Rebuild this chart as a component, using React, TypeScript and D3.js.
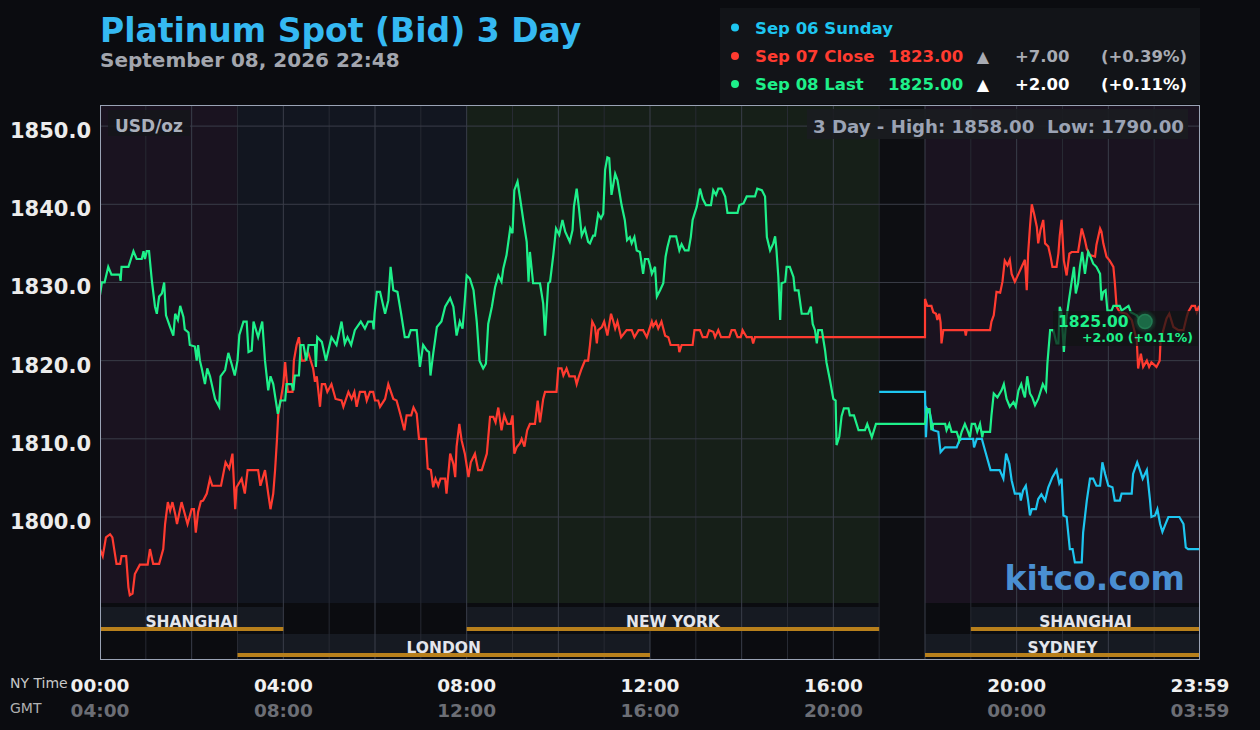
import React from 'react';
import * as d3 from 'd3';

type Pt = [number, number];

// [NY hour, price]
const sep06Sunday: Pt[] = [[17.0,1816],[18.0,1816],[18.02,1810.2],[18.05,1813.8],[18.11,1813.2],[18.18,1811.1],[18.29,1810.9],[18.34,1808.3],[18.4,1808.7],[18.44,1808.9],[18.69,1808.9],[18.75,1809.8],[18.8,1810],[19.05,1810],[19.07,1808.9],[19.13,1810],[19.24,1810],[19.31,1808.5],[19.43,1806],[19.63,1806],[19.71,1804.9],[19.77,1808.1],[19.84,1806.8],[19.89,1804.7],[19.96,1803],[20.07,1803],[20.09,1802.1],[20.14,1803.4],[20.2,1804],[20.25,1802.1],[20.29,1800.2],[20.33,1801],[20.42,1801],[20.47,1802.3],[20.54,1802.9],[20.62,1802.1],[20.69,1803.8],[20.78,1805.1],[20.87,1806],[20.93,1804.3],[20.98,1804.9],[21.02,1800.2],[21.09,1800],[21.16,1795.9],[21.22,1795.9],[21.27,1794.2],[21.42,1794.2],[21.45,1798],[21.53,1802.1],[21.6,1804.9],[21.67,1804.9],[21.74,1804],[21.82,1804],[21.87,1807],[21.93,1805.5],[22.0,1804],[22.09,1803.8],[22.14,1802.1],[22.25,1802.1],[22.29,1803],[22.51,1803],[22.54,1805.5],[22.63,1807],[22.69,1806],[22.75,1804.9],[22.84,1806],[22.91,1802.1],[22.94,1800],[23.02,1800.2],[23.07,1801],[23.13,1799.1],[23.18,1798.1],[23.24,1799],[23.31,1800],[23.55,1800],[23.64,1799.1],[23.69,1796.1],[23.74,1795.9],[24,1795.9]];

const sep07Close: Pt[] = [[0,1795.9],[0.06,1795],[0.13,1797.4],[0.22,1797.8],[0.27,1797.4],[0.36,1794],[0.44,1794],[0.47,1795],[0.57,1795],[0.62,1791],[0.65,1790],[0.71,1790.2],[0.76,1792.7],[0.87,1793.9],[1.04,1793.9],[1.09,1795.9],[1.16,1794],[1.29,1794],[1.38,1795.9],[1.42,1799.1],[1.48,1801.9],[1.53,1800.8],[1.58,1801.9],[1.64,1800.4],[1.68,1799.1],[1.78,1801.9],[1.85,1800.4],[1.91,1799.1],[2.0,1801],[2.05,1801],[2.09,1798],[2.14,1800.6],[2.2,1802],[2.25,1802.1],[2.33,1803],[2.4,1804.9],[2.45,1804],[2.64,1804],[2.74,1807],[2.82,1806.2],[2.89,1808.1],[2.95,1801],[2.98,1803.8],[3.09,1804.9],[3.16,1803],[3.22,1806],[3.45,1806],[3.5,1804],[3.6,1806],[3.67,1803],[3.72,1801],[3.78,1803],[3.82,1806],[3.86,1809.8],[3.89,1813.2],[3.94,1814.9],[4.0,1817],[4.04,1819.8],[4.08,1817],[4.1,1816],[4.2,1816],[4.23,1820],[4.29,1822],[4.34,1823],[4.4,1820],[4.47,1820],[4.54,1821.1],[4.65,1819],[4.69,1817.3],[4.73,1818],[4.8,1814.1],[4.84,1817],[4.91,1817],[4.96,1816],[5.05,1817],[5.14,1815.1],[5.27,1814.9],[5.31,1814.1],[5.42,1816],[5.49,1815.1],[5.55,1816],[5.6,1814.1],[5.67,1816],[5.78,1816],[5.82,1814.9],[5.89,1816],[5.96,1816],[6.0,1814.9],[6.07,1814.9],[6.11,1814.1],[6.22,1815.1],[6.29,1817],[6.4,1815.1],[6.47,1814.9],[6.55,1813.2],[6.64,1811.1],[6.69,1813],[6.79,1813],[6.84,1814],[6.91,1813.2],[6.96,1810],[7.11,1810],[7.15,1806.2],[7.22,1806],[7.27,1803.8],[7.32,1804.9],[7.38,1804],[7.43,1804.9],[7.53,1804.9],[7.56,1803],[7.64,1808.1],[7.71,1806.8],[7.75,1805.1],[7.78,1809],[7.84,1811.9],[7.89,1809.8],[7.96,1808.1],[8.04,1805.1],[8.09,1807],[8.18,1808.1],[8.25,1806],[8.33,1806],[8.44,1808.1],[8.51,1812.8],[8.58,1812.8],[8.63,1812.1],[8.69,1814],[8.76,1811.1],[8.82,1813],[8.89,1811.9],[8.96,1811.9],[9.0,1813],[9.04,1808.1],[9.09,1808.9],[9.16,1809.4],[9.2,1810],[9.26,1809],[9.32,1811.1],[9.38,1811.9],[9.49,1811.9],[9.55,1814.9],[9.6,1812.1],[9.67,1815.1],[9.71,1816],[9.96,1816],[10.0,1819],[10.07,1819],[10.11,1818.1],[10.18,1819],[10.24,1818],[10.36,1818],[10.4,1817],[10.45,1818],[10.51,1819],[10.58,1820],[10.65,1820],[10.69,1822],[10.74,1825],[10.8,1824.3],[10.84,1822.2],[10.87,1823.9],[10.95,1824.3],[11.0,1825],[11.07,1823.2],[11.15,1826],[11.2,1825],[11.24,1824.1],[11.29,1825],[11.37,1823],[11.49,1823.9],[11.6,1823.9],[11.66,1823],[11.75,1823.9],[11.85,1823.9],[11.93,1823],[12.04,1825],[12.07,1824.4],[12.13,1825],[12.18,1824.1],[12.25,1825],[12.33,1823.2],[12.4,1823],[12.45,1822],[12.62,1822],[12.64,1821.1],[12.69,1822],[12.93,1822],[12.97,1823.9],[13.09,1823.9],[13.15,1823],[13.24,1823],[13.29,1823.9],[13.38,1823.7],[13.42,1823],[13.49,1823.9],[13.55,1823],[13.73,1823],[13.78,1823.9],[13.85,1823.9],[13.91,1823],[13.98,1823],[14.02,1823.9],[14.11,1823],[14.22,1823],[14.25,1822.2],[14.29,1823],[18.0,1823],[18.0,1827.9],[18.05,1827],[18.14,1827],[18.18,1826.2],[18.24,1826],[18.27,1825.2],[18.31,1826],[18.34,1824.9],[18.36,1822.2],[18.4,1823.9],[18.87,1823.9],[18.89,1823.2],[18.91,1823.9],[19.42,1823.9],[19.45,1825],[19.5,1825.8],[19.56,1828.8],[19.64,1828.7],[19.69,1830.1],[19.74,1832.8],[19.8,1832.2],[19.85,1832.9],[19.89,1831.1],[19.96,1830.1],[20.04,1831.1],[20.11,1832],[20.18,1832.9],[20.22,1829],[20.25,1833.7],[20.29,1837.1],[20.33,1840],[20.38,1838.8],[20.44,1837.1],[20.47,1835],[20.52,1836.7],[20.58,1838],[20.62,1835],[20.69,1834.6],[20.74,1833.3],[20.78,1832],[20.87,1832],[20.91,1833.7],[20.94,1836],[20.98,1838],[21.03,1832.8],[21.09,1830.9],[21.15,1833.7],[21.2,1833.9],[21.34,1833.9],[21.42,1836.9],[21.49,1835.4],[21.53,1834.3],[21.6,1833.5],[21.71,1833.3],[21.74,1834.8],[21.82,1836.9],[21.85,1836.5],[21.89,1835],[21.96,1833.3],[22.03,1832.8],[22.11,1832],[22.14,1830.1],[22.18,1826.9],[22.25,1826.2],[22.4,1826],[22.51,1825.2],[22.62,1822.6],[22.65,1819],[22.71,1820.9],[22.76,1819.2],[22.84,1820],[22.89,1819.2],[22.94,1819.8],[23.05,1819.2],[23.12,1820],[23.14,1822.6],[23.2,1823.9],[23.27,1825.4],[23.33,1826],[23.42,1824.3],[23.53,1823.9],[23.64,1823.9],[23.71,1825.6],[23.74,1826.2],[23.82,1827],[23.89,1827],[23.93,1826.2],[23.98,1827]];

const sep08Last: Pt[] = [[0,1828.4],[0.04,1830],[0.1,1830],[0.18,1832],[0.25,1831],[0.43,1831],[0.45,1830.2],[0.47,1832],[0.62,1832],[0.73,1834],[0.8,1833],[0.91,1833],[0.95,1834],[0.98,1833],[1.02,1834],[1.07,1834],[1.13,1830.3],[1.2,1826.9],[1.24,1826],[1.29,1828.2],[1.35,1828.6],[1.4,1830],[1.44,1825.8],[1.53,1824.3],[1.6,1823.2],[1.64,1826],[1.7,1825.2],[1.75,1827],[1.82,1825.6],[1.85,1824],[1.93,1823.6],[1.96,1822],[2.07,1821.8],[2.11,1820],[2.14,1822],[2.18,1820],[2.22,1819],[2.29,1817],[2.34,1819],[2.4,1818],[2.51,1815.1],[2.6,1814.1],[2.63,1818],[2.73,1818.8],[2.8,1821],[2.87,1819.6],[2.94,1818.1],[3.0,1820],[3.04,1823.3],[3.13,1825],[3.2,1825],[3.24,1821.1],[3.31,1821.3],[3.35,1825],[3.45,1823],[3.54,1825],[3.6,1820],[3.67,1816.2],[3.72,1818],[3.78,1817],[3.88,1813.2],[3.94,1814.9],[4.04,1814.9],[4.07,1817],[4.18,1817],[4.22,1816.2],[4.25,1818.1],[4.34,1818.1],[4.38,1822],[4.44,1822],[4.5,1820],[4.55,1822],[4.69,1822],[4.71,1819.2],[4.74,1823],[4.84,1822.4],[4.93,1820],[5.05,1823],[5.16,1822],[5.27,1825],[5.34,1822.2],[5.4,1823],[5.48,1822],[5.56,1823.9],[5.69,1825],[5.78,1824.1],[5.85,1825],[5.95,1825],[5.97,1824],[5.99,1826],[6.04,1828.8],[6.11,1828.8],[6.22,1826],[6.29,1827.7],[6.34,1832],[6.4,1829],[6.49,1828.8],[6.57,1826],[6.65,1823],[6.73,1823],[6.78,1823.9],[6.91,1823.9],[6.98,1819.2],[7.05,1822],[7.13,1821.3],[7.18,1821.1],[7.21,1818.1],[7.27,1820.9],[7.35,1824.3],[7.45,1825],[7.53,1826.9],[7.64,1828],[7.71,1826.9],[7.78,1823.2],[7.85,1825],[7.91,1824.1],[7.95,1826.9],[8.0,1830.9],[8.07,1830.5],[8.15,1829],[8.22,1825],[8.28,1820],[8.36,1819],[8.42,1819.6],[8.47,1824.7],[8.55,1826.9],[8.62,1829.4],[8.69,1830.9],[8.76,1830.1],[8.8,1831.8],[8.87,1833.5],[8.95,1836.9],[9.0,1836.3],[9.04,1841.8],[9.11,1842.9],[9.16,1841],[9.24,1837.8],[9.31,1835.2],[9.35,1830.1],[9.38,1833.9],[9.45,1829.9],[9.6,1829.9],[9.67,1827.3],[9.71,1823.2],[9.78,1829.9],[9.82,1830.1],[9.89,1833.5],[9.95,1836.9],[10.02,1836.1],[10.09,1838],[10.15,1836.5],[10.25,1835.2],[10.31,1836.7],[10.34,1839.7],[10.4,1842],[10.45,1839.5],[10.51,1836],[10.58,1836.9],[10.65,1835.2],[10.69,1835],[10.76,1836],[10.8,1836],[10.87,1838.8],[10.93,1838.2],[10.98,1838.8],[11.02,1844.4],[11.07,1846],[11.11,1845.9],[11.16,1841.2],[11.24,1843.9],[11.29,1843.1],[11.38,1839.9],[11.45,1838],[11.5,1835.4],[11.56,1835.8],[11.6,1835],[11.66,1835.8],[11.71,1834.1],[11.78,1833.9],[11.85,1831.1],[11.89,1833],[11.96,1833],[12.0,1832.2],[12.04,1831.1],[12.11,1832],[12.15,1828.2],[12.22,1829],[12.29,1829.9],[12.34,1833.3],[12.38,1834.5],[12.44,1835.9],[12.57,1835.9],[12.64,1834.1],[12.69,1834.9],[12.76,1834.1],[12.84,1834.1],[12.89,1835.8],[12.93,1838],[13.02,1839.7],[13.09,1842],[13.15,1840.7],[13.22,1839.9],[13.33,1839.9],[13.38,1841.8],[13.44,1841.2],[13.49,1842],[13.56,1842],[13.64,1841],[13.69,1838.9],[13.91,1838.9],[13.95,1839.9],[14.04,1840.1],[14.11,1841],[14.29,1841],[14.34,1842],[14.44,1841.8],[14.51,1841],[14.55,1835.8],[14.62,1834.1],[14.69,1835],[14.73,1835.9],[14.76,1834.1],[14.8,1830.7],[14.84,1825.2],[14.87,1829.9],[14.95,1830.1],[14.98,1832],[15.05,1832],[15.13,1830.7],[15.16,1829],[15.24,1829],[15.31,1826],[15.45,1826],[15.51,1826.9],[15.55,1824.7],[15.6,1823.9],[15.64,1822.2],[15.67,1823.9],[15.75,1823.9],[15.82,1821.3],[15.85,1819.8],[15.93,1817.4],[16.0,1815.1],[16.05,1814.9],[16.07,1809.2],[16.13,1810.3],[16.18,1812.9],[16.23,1813.9],[16.33,1813.9],[16.36,1813],[16.45,1813],[16.55,1811.1],[16.69,1811.1],[16.74,1811.9],[16.84,1810.2],[16.93,1811.9],[18.0,1811.9],[18.04,1813.8],[18.1,1813.8],[18.14,1811.1],[18.18,1811.9],[18.44,1811.9],[18.47,1811.1],[18.53,1811.9],[18.58,1810.9],[18.69,1810.9],[18.75,1809.8],[18.8,1810.9],[18.87,1811.9],[18.94,1810.9],[18.98,1810.2],[19.02,1811.9],[19.09,1811.9],[19.14,1810.9],[19.2,1811.9],[19.25,1810.2],[19.27,1810.9],[19.42,1810.9],[19.45,1813],[19.5,1815.8],[19.58,1815.3],[19.67,1816.2],[19.72,1817],[19.78,1815.1],[19.85,1814.1],[19.93,1814.7],[19.98,1814.1],[20.04,1816.2],[20.1,1817],[20.15,1815.8],[20.18,1815.3],[20.23,1818],[20.29,1815.8],[20.34,1815.3],[20.4,1814.3],[20.47,1815.1],[20.57,1817],[20.64,1816.2],[20.67,1819.6],[20.73,1823.9],[20.8,1823.9],[20.87,1822.2],[20.91,1822.2],[20.94,1826.9],[20.98,1826],[21.03,1821.1],[21.08,1825.2],[21.13,1827.3],[21.2,1830.1],[21.25,1832],[21.29,1828.6],[21.34,1829.9],[21.38,1832],[21.43,1833.9],[21.49,1831.1],[21.53,1832.8],[21.56,1833.9],[21.61,1833.3],[21.67,1832.4],[21.74,1832],[21.82,1831.1],[21.85,1827.7],[21.89,1828.8],[21.94,1829],[21.98,1826.4],[22.07,1826.4],[22.11,1827],[22.25,1827],[22.29,1826.4],[22.44,1827],[22.49,1826.2],[22.62,1825.8],[22.69,1825.2],[22.8,1825]];

const priceTicks = [1800, 1810, 1820, 1830, 1840, 1850];
const hourTicks = [0, 4, 8, 12, 16, 20, 24];
const nyLabels = ['00:00', '04:00', '08:00', '12:00', '16:00', '20:00', '23:59'];
const gmtLabels = ['04:00', '08:00', '12:00', '16:00', '20:00', '00:00', '03:59'];
const gridHours = d3.range(1, 24);

const zoneFrom = [0, 3, 8, 17, 18];
const zoneTo = [3, 8, 17, 18, 24];
const zoneColors = ['#1a1320', '#121620', '#161f18', '#0d0e12', '#1a1320'];

const sessionNames = ['SHANGHAI', 'NEW YORK', 'SHANGHAI', 'LONDON', 'SYDNEY'];
const sessionFrom = [0, 8, 19, 3, 18];
const sessionTo = [4, 17, 24, 12, 24];
const sessionRow = [0, 0, 0, 1, 1];

const lastPrice = 1825.0;
const lastHour = 22.8;

const FONT = '"DejaVu Sans", Verdana, sans-serif';
const C_BLUE = '#1ec6f0';
const C_RED = '#ff3b30';
const C_GREEN = '#1ef08a';

export default function App() {
  const W = 1260, H = 730;
  const left = 100, right = 1200, top = 105, priceBottom = 603, bottom = 660;
  const x = d3.scaleLinear().domain([0, 24]).range([left, right]);
  const y = d3.scaleLinear().domain([1789, 1852.7]).range([priceBottom, top]);
  const line = d3.line<Pt>().x(d => x(d[0])).y(d => y(d[1]));

  const rowTop = [607, 634];
  const rowLine = [627, 653];

  return (
    <svg width={W} height={H} style={{ position: 'absolute', left: 0, top: 0, display: 'block', background: '#0b0c10' }} fontFamily={FONT}>
      <defs>
        <clipPath id="plotClip">
          <rect x={left} y={top} width={right - left} height={priceBottom - top} />
        </clipPath>
        <radialGradient id="glow">
          <stop offset="0%" stopColor="#1ef08a" stopOpacity={0.45} />
          <stop offset="100%" stopColor="#1ef08a" stopOpacity={0} />
        </radialGradient>
      </defs>
      <rect x={0} y={0} width={W} height={H} fill="#0b0c10" />

      {/* title */}
      <text x={100} y={42} fill="#35b9f2" fontSize={33} fontWeight="bold">Platinum Spot (Bid) 3 Day</text>
      <text x={100} y={67} fill="#a3a6ae" fontSize={20} fontWeight="bold">September 08, 2026 22:48</text>

      {/* legend */}
      <rect x={720} y={8} width={480} height={96} fill="#121418" />
      <circle cx={735} cy={27.5} r={4} fill={C_BLUE} />
      <text x={755} y={33.5} fill={C_BLUE} fontSize={16.5} fontWeight="bold">Sep 06 Sunday</text>
      <circle cx={735} cy={56} r={4} fill={C_RED} />
      <text x={755} y={62} fill={C_RED} fontSize={16.5} fontWeight="bold">Sep 07 Close</text>
      <text x={888} y={62} fill={C_RED} fontSize={16.5} fontWeight="bold">1823.00</text>
      <text x={983} y={62} fill="#a8abb3" fontSize={16} fontWeight="bold" textAnchor="middle">▲</text>
      <text x={1015} y={62} fill="#a8abb3" fontSize={16.5} fontWeight="bold">+7.00</text>
      <text x={1101} y={62} fill="#a8abb3" fontSize={16.5} fontWeight="bold">(+0.39%)</text>
      <circle cx={735} cy={84} r={4} fill={C_GREEN} />
      <text x={755} y={90} fill={C_GREEN} fontSize={16.5} fontWeight="bold">Sep 08 Last</text>
      <text x={888} y={90} fill={C_GREEN} fontSize={16.5} fontWeight="bold">1825.00</text>
      <text x={983} y={90} fill="#ffffff" fontSize={16} fontWeight="bold" textAnchor="middle">▲</text>
      <text x={1015} y={90} fill="#ffffff" fontSize={16.5} fontWeight="bold">+2.00</text>
      <text x={1101} y={90} fill="#ffffff" fontSize={16.5} fontWeight="bold">(+0.11%)</text>

      {/* plot background */}
      <rect x={left} y={top} width={right - left} height={bottom - top} fill="#0b0c10" />
      {zoneFrom.map((f, i) => (
        <rect key={'z' + i} x={x(f)} y={top} width={x(zoneTo[i]) - x(f)} height={(i === 3 ? bottom : priceBottom) - top} fill={zoneColors[i]} />
      ))}

      {/* session bars */}
      {sessionNames.map((n, i) => {
        const r = sessionRow[i];
        return (
          <rect key={'s' + i} x={x(sessionFrom[i])} y={rowTop[r]} width={x(sessionTo[i]) - x(sessionFrom[i])} height={rowLine[r] - rowTop[r] + 4} fill="#161a22" />
        );
      })}

      {/* grid */}
      {gridHours.map(h => (
        <line key={'v' + h} x1={x(h)} x2={x(h)} y1={top} y2={bottom} stroke={h % 2 === 0 ? '#3a3e4a' : '#272a33'} strokeWidth={1} />
      ))}
      {priceTicks.map(p => (
        <line key={'h' + p} x1={left} x2={right} y1={y(p)} y2={y(p)} stroke="#3a3d48" strokeWidth={1} />
      ))}

      {sessionNames.map((n, i) => {
        const r = sessionRow[i];
        const cx = (x(sessionFrom[i]) + x(sessionTo[i])) / 2;
        return (
          <g key={'sl' + i}>
            <rect x={x(sessionFrom[i])} y={rowLine[r]} width={x(sessionTo[i]) - x(sessionFrom[i])} height={4} fill="#b8801c" />
            <text x={cx} y={rowLine[r]} fill="#e4e6ec" fontSize={15.5} fontWeight="bold" textAnchor="middle">{n}</text>
          </g>
        );
      })}

      {/* USD/oz and High/Low boxes */}
      <rect x={108} y={110} width={82} height={26} fill="#15161b" opacity={0.9} />
      <text x={115} y={131.5} fill="#aab0bc" fontSize={17} fontWeight="bold">USD/oz</text>
      <rect x={807} y={109} width={381} height={30} fill="#1a1c21" opacity={0.92} />
      <text x={813} y={132.5} fill="#9ba3b4" fontSize={18} fontWeight="bold" xmlSpace="preserve" style={{ whiteSpace: 'pre' }} textLength={371} lengthAdjust="spacingAndGlyphs">3 Day - High: 1858.00  Low: 1790.00</text>

      {/* kitco */}
      <text x={1185} y={590} fill="#4a8fd2" fontSize={33} fontWeight="bold" textAnchor="end">kitco.com</text>

      {/* series */}
      <g clipPath="url(#plotClip)" fill="none" strokeWidth={2.2} strokeLinejoin="miter">
        <path d={line(sep06Sunday) || ''} stroke={C_BLUE} />
        <path d={line(sep07Close) || ''} stroke={C_RED} />
        <path d={line(sep08Last) || ''} stroke={C_GREEN} />
      </g>

      {/* last label */}
      <rect x={1053} y={311} width={145} height={35} fill="#101314" opacity={0.72} />
      <circle cx={x(lastHour)} cy={y(lastPrice)} r={12} fill="url(#glow)" />
      <circle cx={x(lastHour)} cy={y(lastPrice)} r={7} fill="#1b6a46" stroke="#237c53" strokeWidth={1.5} />
      <text x={1058} y={327} fill={C_GREEN} fontSize={15.5} fontWeight="bold">{lastPrice.toFixed(2)}</text>
      <text x={1193} y={342} fill={C_GREEN} fontSize={12.5} fontWeight="bold" textAnchor="end">+2.00 (+0.11%)</text>

      {/* frame */}
      <rect x={left + 0.5} y={top + 0.5} width={right - left - 1} height={bottom - top - 1} fill="none" stroke="#9aa3b5" strokeWidth={1} />

      {/* y axis labels */}
      {priceTicks.map(p => (
        <text key={'yl' + p} x={91} y={y(p) + 12} fill="#ececec" fontSize={21} fontWeight="bold" textAnchor="end">{p.toFixed(1)}</text>
      ))}

      {/* x axis labels */}
      <text x={10} y={688} fill="#c8c8c8" fontSize={14}>NY Time</text>
      <text x={10} y={713} fill="#b0b0b0" fontSize={14}>GMT</text>
      {hourTicks.map((h, i) => (
        <g key={'xl' + h}>
          <text x={x(h)} y={692} fill="#f0f0f0" fontSize={18.5} fontWeight="bold" textAnchor="middle">{nyLabels[i]}</text>
          <text x={x(h)} y={717} fill="#6c6e75" fontSize={18.5} fontWeight="bold" textAnchor="middle">{gmtLabels[i]}</text>
        </g>
      ))}
    </svg>
  );
}
